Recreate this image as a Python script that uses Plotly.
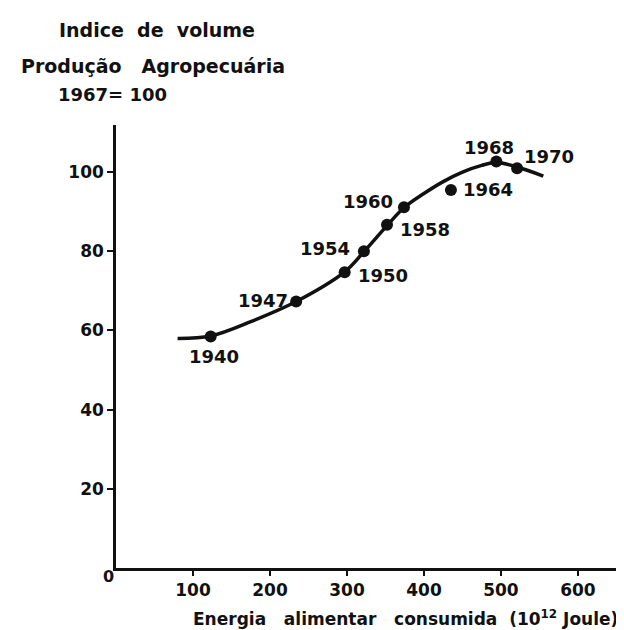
import plotly.graph_objects as go

# Data
years = ["1940", "1947", "1950", "1954", "1958", "1960", "1964", "1968", "1970"]
energy = [123, 234, 297, 322, 352, 374, 435, 494, 521]
index_vol = [58.5, 67.3, 74.7, 80.0, 86.7, 91.1, 95.5, 102.7, 101.0]

curve_x = [80, 123, 176, 234, 297, 322, 352, 374, 400, 425, 450, 475, 494, 521, 555]
curve_y = [58.0, 58.6, 62.3, 67.3, 74.8, 79.9, 86.5, 91.0, 94.6, 97.6, 100.0, 101.7, 102.4, 101.3, 99.0]

x_ticks = [100, 200, 300, 400, 500, 600]
y_ticks = [20, 40, 60, 80, 100]

# label placement (anchor, xshift, yshift) per year
label_place = [
    ("center", 3, -20),
    ("right", -6, 1),
    ("left", 11, -3),
    ("right", -12, 3),
    ("left", 11, -5),
    ("right", -9, 6),
    ("left", 10, 0),
    ("center", -7, 14),
    ("left", 5, 12),
]

FONT = "DejaVu Sans"
INK = "#111111"

fig = go.Figure()
fig.add_trace(go.Scatter(
    x=curve_x, y=curve_y, mode="lines",
    line=dict(color=INK, width=3.5, shape="spline", smoothing=1.0),
    hoverinfo="skip", showlegend=False,
))
fig.add_trace(go.Scatter(
    x=energy, y=index_vol, mode="markers",
    marker=dict(color=INK, size=12),
    text=years, showlegend=False,
))

annotations = []
for yr, xv, yv, (anc, xs, ys) in zip(years, energy, index_vol, label_place):
    annotations.append(dict(
        x=xv, y=yv, xref="x", yref="y", text=yr, showarrow=False,
        xanchor=anc, yanchor="middle", xshift=xs, yshift=ys,
        font=dict(family=FONT, size=18, color=INK, weight="bold"),
    ))

# titles (paper coordinates relative to plot area)
def px_x(p):
    return (p - 108) / 512.0

def px_y(p):
    return (560 - p) / 443.0

NB = "\u00a0"
annotations += [
    dict(x=px_x(49), y=px_y(22), xref="paper", yref="paper",
         text="Indice" + NB * 2 + "de" + NB * 2 + "volume",
         showarrow=False, xanchor="left", yanchor="middle",
         font=dict(family=FONT, size=19, color=INK, weight="bold")),
    dict(x=px_x(11), y=px_y(58), xref="paper", yref="paper",
         text="Produção" + NB * 3 + "Agropecuária",
         showarrow=False, xanchor="left", yanchor="middle",
         font=dict(family=FONT, size=19, color=INK, weight="bold")),
    dict(x=px_x(48), y=px_y(87), xref="paper", yref="paper", text="1967=" + NB + "100",
         showarrow=False, xanchor="left", yanchor="middle",
         font=dict(family=FONT, size=18, color=INK, weight="bold")),
    dict(x=px_x(612), y=px_y(610), xref="paper", yref="paper",
         text="Energia" + NB * 3 + "alimentar" + NB * 3 + "consumida" + NB * 2
              + "(10<sup>12</sup>" + NB + "Joule)",
         showarrow=False, xanchor="right", yanchor="middle",
         font=dict(family=FONT, size=17, color=INK, weight="bold")),
    dict(x=px_x(100), y=px_y(568), xref="paper", yref="paper", text="0",
         showarrow=False, xanchor="center", yanchor="middle",
         font=dict(family=FONT, size=16, color=INK, weight="bold")),
]

fig.update_layout(
    width=624, height=630,
    margin=dict(l=108, r=4, t=117, b=70),
    paper_bgcolor="white", plot_bgcolor="white",
    annotations=annotations,
    showlegend=False,
)
fig.update_xaxes(
    range=[0, 665], tickvals=x_ticks, ticktext=[str(v) for v in x_ticks],
    showgrid=False, zeroline=False, showline=True, linecolor=INK, linewidth=2.5,
    ticks="outside", ticklen=5, tickwidth=2, tickcolor=INK,
    tickfont=dict(family=FONT, size=17, color=INK, weight="bold"),
)
fig.update_yaxes(
    range=[0, 111.9], tickvals=y_ticks, ticktext=[str(v) for v in y_ticks],
    showgrid=False, zeroline=False, showline=True, linecolor=INK, linewidth=2.5,
    ticks="outside", ticklen=6, tickwidth=2, tickcolor=INK,
    tickfont=dict(family=FONT, size=17, color=INK, weight="bold"),
)

fig.write_html("out.html")
